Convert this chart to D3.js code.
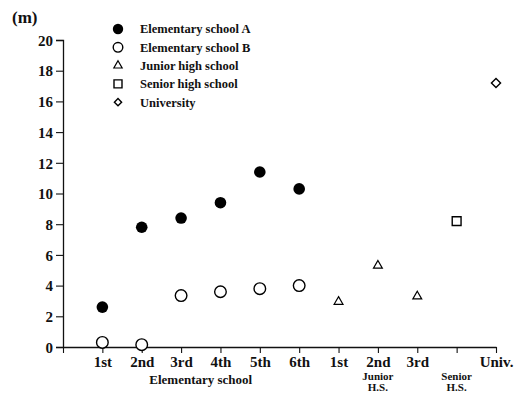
<!DOCTYPE html>
<html>
<head>
<meta charset="utf-8">
<script src="https://cdn.jsdelivr.net/npm/d3@7"></script>
<style>
  html, body { margin: 0; padding: 0; background: #fff; }
  svg text { font-family: "Liberation Serif", "Times New Roman", serif; fill: #111; }
</style>
</head>
<body>
<svg id="chart" width="527" height="394"></svg>
<script>
// Grade positions along the x axis (index 0 is the origin)
const gradeLabels = ["", "1st", "2nd", "3rd", "4th", "5th", "6th", "1st", "2nd", "3rd", "", "Univ."];
const yTicks = [0, 2, 4, 6, 8, 10, 12, 14, 16, 18, 20];

// Throwing distance (m) by group
const elemAIdx = [1, 2, 3, 4, 5, 6];
const elemA = [2.6, 7.8, 8.4, 9.4, 11.4, 10.3];
const elemBIdx = [1, 2, 3, 4, 5, 6];
const elemB = [0.3, 0.15, 3.35, 3.6, 3.8, 4.0];
const juniorIdx = [7, 8, 9];
const junior = [2.95, 5.3, 3.3];
const seniorIdx = [10];
const senior = [8.2];
const univIdx = [11];
const univ = [17.2];

const legendNames = ["Elementary school A", "Elementary school B", "Junior high school", "Senior high school", "University"];

const svg = d3.select("#chart");
const x = d3.scaleLinear().domain([0, 11]).range([63, 496]);
const y = d3.scaleLinear().domain([0, 20]).range([347, 40]);

// y axis
const yAxis = svg.append("g")
  .attr("transform", `translate(${x(0)},0)`)
  .call(d3.axisLeft(y).tickValues(yTicks).tickSize(7).tickPadding(3));
yAxis.selectAll("text").style("font-size", "15px").style("font-weight", "bold").attr("dy", "0.35em");

// x axis
const xAxis = svg.append("g")
  .attr("transform", `translate(0,${y(0)})`)
  .call(d3.axisBottom(x).tickValues(d3.range(0, 12)).tickFormat(i => gradeLabels[i]).tickSize(6).tickSizeOuter(0).tickPadding(3));
xAxis.selectAll("text").style("font-size", "15px").style("font-weight", "bold");
svg.selectAll(".domain").attr("stroke", "#111").attr("stroke-width", 1.3);
svg.selectAll(".tick line").attr("stroke", "#111").attr("stroke-width", 1.1);

// school level captions under the grades
const sub = svg.append("g").style("font-weight", "bold").attr("text-anchor", "middle");
sub.append("text").attr("x", (x(3) + x(4)) / 2).attr("y", 384).style("font-size", "13px").text("Elementary school");
sub.append("text").attr("x", x(8)).attr("y", 380).style("font-size", "11px").text("Junior");
sub.append("text").attr("x", x(8)).attr("y", 391).style("font-size", "11px").text("H.S.");
sub.append("text").attr("x", x(10)).attr("y", 380).style("font-size", "11px").text("Senior");
sub.append("text").attr("x", x(10)).attr("y", 391).style("font-size", "11px").text("H.S.");

// unit label
svg.append("text").attr("x", 12).attr("y", 23).style("font-size", "17px").style("font-weight", "bold").text("(m)");

// marker shapes
const triPath = d3.symbol().type(d3.symbolTriangle).size(34)();
const sqPath = d3.symbol().type(d3.symbolSquare).size(78)();
const diaPath = d3.symbol().type(d3.symbolSquare).size(42)();

function drawPoints(idx, vals, fn) {
  const g = svg.append("g");
  idx.forEach((i, k) => fn(g, x(i), y(vals[k])));
}
const filledCircle = (g, cx, cy, r = 5.8) => g.append("circle").attr("cx", cx).attr("cy", cy).attr("r", r).attr("fill", "#000");
const openCircle = (g, cx, cy, r = 5.8) => g.append("circle").attr("cx", cx).attr("cy", cy).attr("r", r).attr("fill", "#fff").attr("stroke", "#000").attr("stroke-width", 1.4);
const triangle = (g, cx, cy, p = triPath) => g.append("path").attr("d", p).attr("transform", `translate(${cx},${cy})`).attr("fill", "none").attr("stroke", "#000").attr("stroke-width", 1.2);
const square = (g, cx, cy, p = sqPath) => g.append("path").attr("d", p).attr("transform", `translate(${cx},${cy})`).attr("fill", "none").attr("stroke", "#000").attr("stroke-width", 1.4);
const diamond = (g, cx, cy, p = diaPath) => g.append("path").attr("d", p).attr("transform", `translate(${cx},${cy}) rotate(45)`).attr("fill", "none").attr("stroke", "#000").attr("stroke-width", 1.4);

drawPoints(elemAIdx, elemA, filledCircle);
drawPoints(elemBIdx, elemB, openCircle);
drawPoints(juniorIdx, junior, triangle);
drawPoints(seniorIdx, senior, square);
drawPoints(univIdx, univ, diamond);

// legend
const legend = svg.append("g");
const markers = [
  (g, cx, cy) => filledCircle(g, cx, cy, 5.2),
  (g, cx, cy) => openCircle(g, cx, cy, 4.8),
  (g, cx, cy) => triangle(g, cx, cy, d3.symbol().type(d3.symbolTriangle).size(30)()),
  (g, cx, cy) => square(g, cx, cy, d3.symbol().type(d3.symbolSquare).size(64)()),
  (g, cx, cy) => diamond(g, cx, cy, d3.symbol().type(d3.symbolSquare).size(26)())
];
legendNames.forEach((name, i) => {
  const cy = 29 + i * 18.3;
  markers[i](legend, 118, cy);
  legend.append("text").attr("x", 140).attr("y", cy).attr("dy", "0.35em")
    .style("font-size", "12.5px").style("font-weight", "bold").text(name);
});
</script>
</body>
</html>
